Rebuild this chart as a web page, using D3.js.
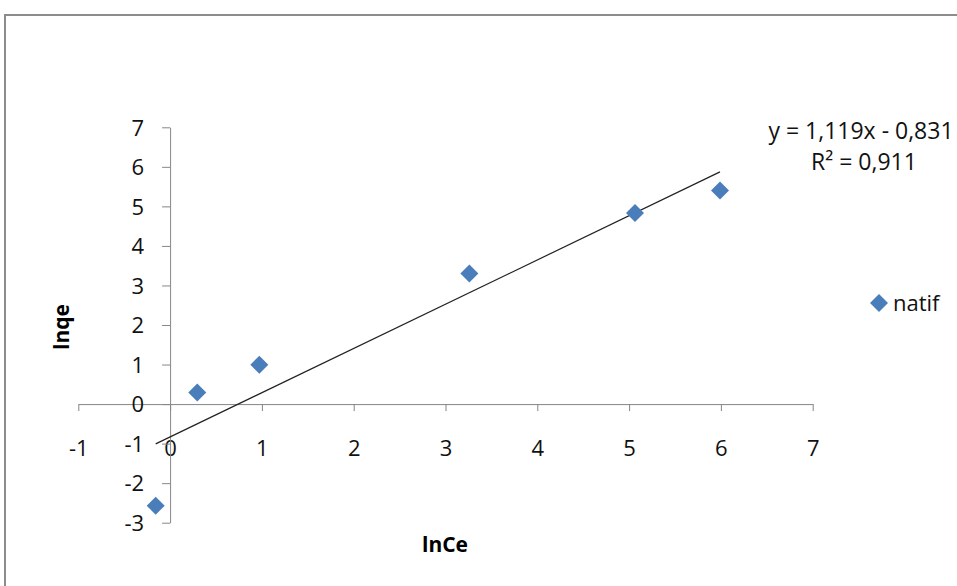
<!DOCTYPE html>
<html>
<head>
<meta charset="utf-8">
<script src="https://cdn.jsdelivr.net/npm/d3@7"></script>
<style>
  body { margin: 0; background: #fff; }
  svg { display: block; font-family: "Open Sans", sans-serif; }
</style>
</head>
<body>
<div id="chart"></div>
<script>
// Data
const seriesName = "natif";
const lnCe = [-0.157, 0.296, 0.972, 3.26, 5.064, 5.99];
const lnqe = [-2.57, 0.29, 0.995, 3.30, 4.83, 5.40];
const xTicks = [-1, 0, 1, 2, 3, 4, 5, 6, 7];
const yTicks = [-3, -2, -1, 0, 1, 2, 3, 4, 5, 6, 7];
// trendline, as printed on the chart
const slope = 1.119, intercept = -0.831;
const eqLabel = "y = 1,119x - 0,831";
const r2Label = "R² = 0,911";

const width = 957, height = 586;
const markerColor = "#4a7ebb";
const axisColor = "#868686";
const fontSize = "22px";

const svg = d3.select("#chart").append("svg")
    .attr("width", width)
    .attr("height", height);

// chart frame (runs off the right and bottom edge)
svg.append("rect")
    .attr("x", 5)
    .attr("y", 15)
    .attr("width", 1000)
    .attr("height", 700)
    .attr("fill", "none")
    .attr("stroke", "#8c8c8c")
    .attr("stroke-width", 2);

const x = d3.scaleLinear().domain([-1, 7]).range([78.3, 812.7]);
const y = d3.scaleLinear().domain([-3, 7]).range([522.7, 127.3]);

// x axis sits at y = 0
const xAxis = svg.append("g")
    .attr("transform", `translate(0,${y(0)})`)
    .call(d3.axisBottom(x).tickValues(xTicks).tickSize(7).tickSizeOuter(0).tickFormat(d => String(d)));

// y axis sits at x = 0
const yAxis = svg.append("g")
    .attr("transform", `translate(${x(0)},0)`)
    .call(d3.axisLeft(y).tickValues(yTicks).tickSize(8).tickSizeOuter(0).tickFormat(d => String(d)));

[xAxis, yAxis].forEach(g => {
    g.select(".domain").attr("stroke", axisColor);
    g.selectAll(".tick line").attr("stroke", axisColor);
    g.selectAll(".tick text")
        .style("font-size", fontSize)
        .style("font-family", "'Open Sans', sans-serif")
        .attr("fill", "#111");
});
xAxis.selectAll(".tick text").attr("y", 44).attr("dy", "0.35em");
yAxis.selectAll(".tick text").attr("x", -26).attr("dy", "0.35em");

// axis titles
svg.append("text")
    .attr("x", 445)
    .attr("y", 545)
    .attr("dy", "0.35em")
    .attr("text-anchor", "middle")
    .style("font-size", "21px")
    .style("font-weight", "bold")
    .text("lnCe");

svg.append("text")
    .attr("transform", "translate(62,327) rotate(-90)")
    .attr("dy", "0.35em")
    .attr("text-anchor", "middle")
    .style("font-size", "21px")
    .style("font-weight", "bold")
    .text("lnqe");

// linear trendline over the data range
const xMin = d3.min(lnCe), xMax = d3.max(lnCe);
svg.append("line")
    .attr("x1", x(xMin))
    .attr("y1", y(slope * xMin + intercept))
    .attr("x2", x(xMax))
    .attr("y2", y(slope * xMax + intercept))
    .attr("stroke", "#222")
    .attr("stroke-width", 1.2);

// markers
const diamond = d3.symbol().type(d3.symbolSquare).size(162);
svg.selectAll(".pt")
    .data(lnCe.map((v, i) => [v, lnqe[i]]))
    .enter().append("path")
    .attr("class", "pt")
    .attr("d", diamond)
    .attr("transform", d => `translate(${x(d[0])},${y(d[1])}) rotate(45)`)
    .attr("fill", markerColor);

// trendline label
const eq = svg.append("text")
    .attr("text-anchor", "middle")
    .attr("fill", "#111")
    .style("font-size", "23px");
eq.append("tspan").attr("x", 861).attr("y", 131).attr("dy", "0.35em").text(eqLabel);
eq.append("tspan").attr("x", 864).attr("y", 162).attr("dy", "0.35em").text(r2Label);

// legend
svg.append("path")
    .attr("d", diamond)
    .attr("transform", "translate(879,303) rotate(45)")
    .attr("fill", markerColor);
svg.append("text")
    .attr("x", 893)
    .attr("y", 303)
    .attr("dy", "0.35em")
    .attr("fill", "#111")
    .style("font-size", fontSize)
    .text(seriesName);
</script>
</body>
</html>
